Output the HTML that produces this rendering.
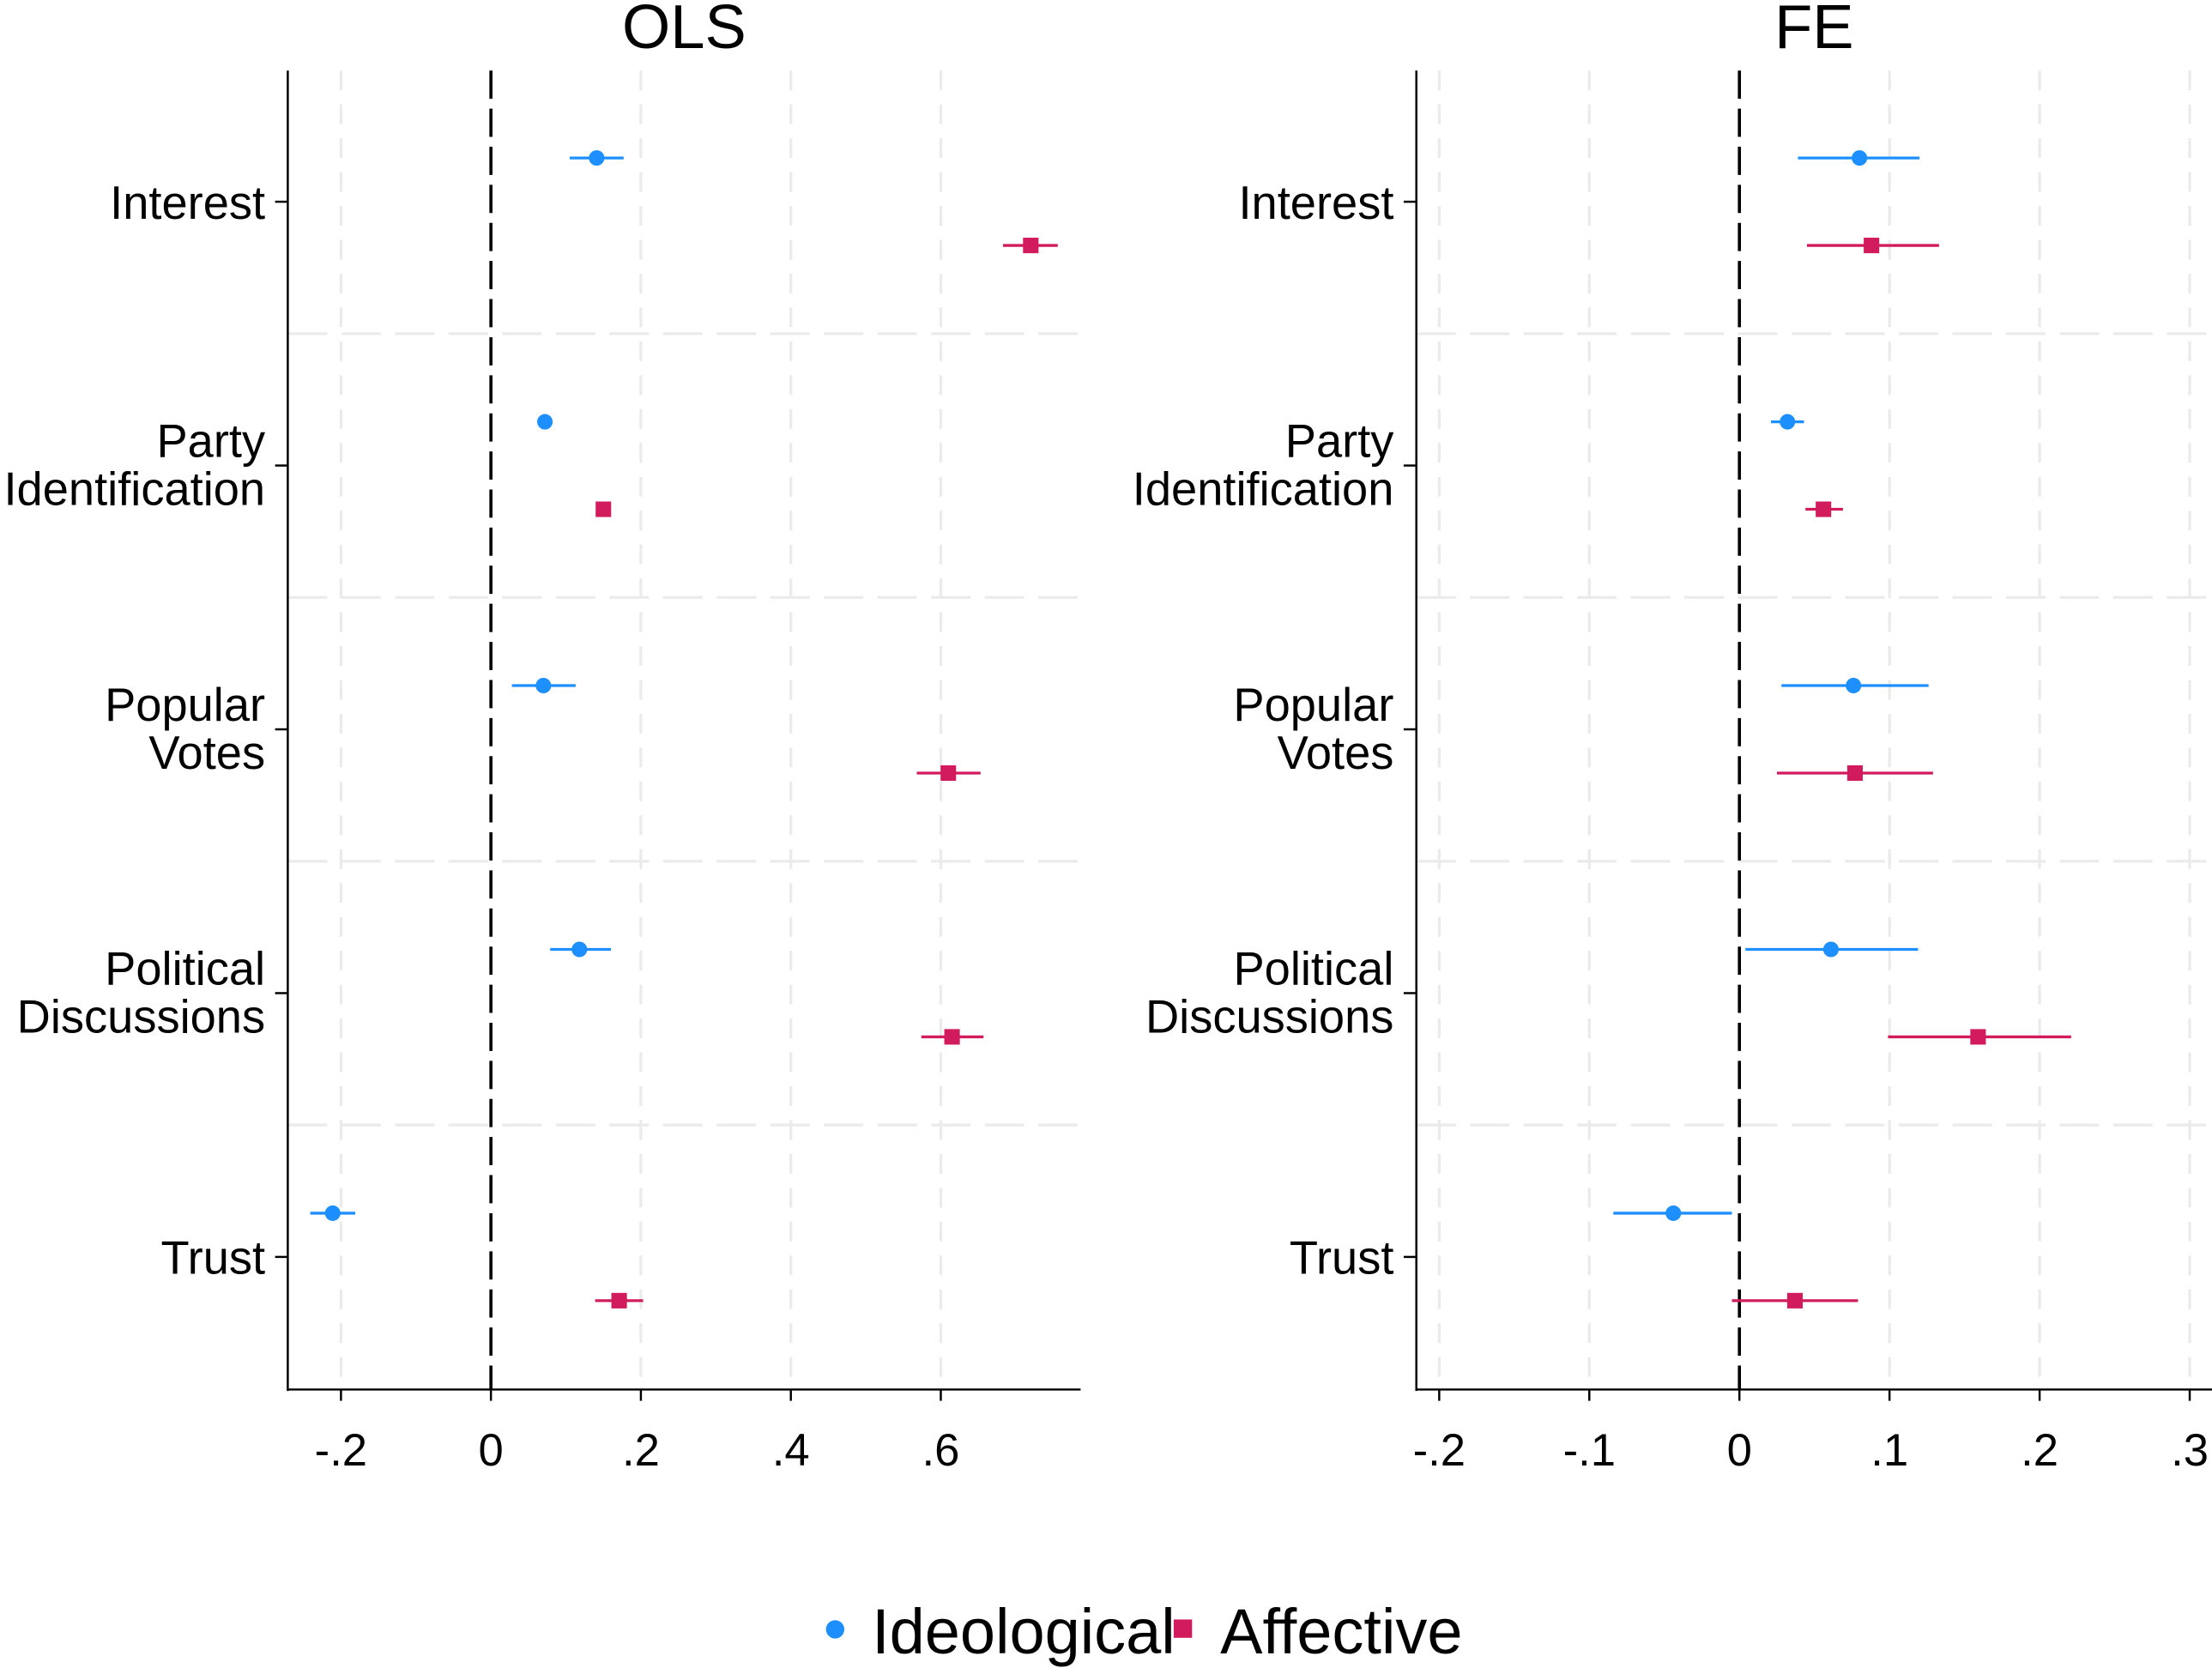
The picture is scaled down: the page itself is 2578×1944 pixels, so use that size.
<!DOCTYPE html>
<html><head><meta charset="utf-8"><style>
html,body{margin:0;padding:0;background:#fff;}
svg{display:block;font-family:"Liberation Sans",Arial,sans-serif;}
</style></head><body>
<svg id="chart" width="2578" height="1944" viewBox="0 0 1568 1182.4" preserveAspectRatio="none" xmlns="http://www.w3.org/2000/svg"></svg>
<script>
const categories = ["Interest", "Party\nIdentification", "Popular\nVotes", "Political\nDiscussions", "Trust"];
const olsIdeo = [0.141, 0.072, 0.070, 0.118, -0.211];
const olsIdeoLo = [0.105, 0.067, 0.028, 0.079, -0.241];
const olsIdeoHi = [0.177, 0.077, 0.113, 0.160, -0.181];
const olsAff = [0.720, 0.150, 0.610, 0.615, 0.171];
const olsAffLo = [0.683, 0.143, 0.568, 0.574, 0.139];
const olsAffHi = [0.756, 0.157, 0.653, 0.657, 0.203];
const feIdeo = [0.080, 0.032, 0.076, 0.061, -0.044];
const feIdeoLo = [0.039, 0.021, 0.028, 0.004, -0.084];
const feIdeoHi = [0.120, 0.043, 0.126, 0.119, -0.005];
const feAff = [0.088, 0.056, 0.077, 0.159, 0.037];
const feAffLo = [0.045, 0.044, 0.025, 0.099, -0.005];
const feAffHi = [0.133, 0.069, 0.129, 0.221, 0.079];
const olsTicks = [-0.2, 0, 0.2, 0.4, 0.6];
const olsTickLabels = ["-.2", "0", ".2", ".4", ".6"];
const feTicks = [-0.2, -0.1, 0, 0.1, 0.2, 0.3];
const feTickLabels = ["-.2", "-.1", "0", ".1", ".2", ".3"];

const NS = "http://www.w3.org/2000/svg";
const svg = document.getElementById("chart");
const BLUE = "#1e8fff", RED = "#d21b5c";
function mk(tag, attrs, parent) {
  const e = document.createElementNS(NS, tag);
  for (const k in attrs) e.setAttribute(k, attrs[k]);
  (parent || svg).appendChild(e);
  return e;
}
const yCat = i => 143 + i * 187;

function panel(cfg) {
  const g = mk("g", {});
  
  
  const x = v => cfg.x0 + v * cfg.k;
  cfg.ticks.forEach(t => {
    if (t === 0) return;
    const l = mk("line", {x1: x(t), x2: x(t), y1: 50, y2: 985, stroke: "#ebebeb", "stroke-width": 2, "stroke-dasharray": "14 10"}, g);
    
    
  });
  for (let i = 0; i < categories.length - 1; i++) {
    const yy = (yCat(i) + yCat(i + 1)) / 2;
    const l = mk("line", {x1: cfg.left, x2: cfg.right, y1: yy, y2: yy, stroke: "#ebebeb", "stroke-width": 2, "stroke-dasharray": "28 10"}, g);
    
    
  }
  const z = mk("line", {x1: x(0), x2: x(0), y1: 50, y2: 985, stroke: "#000", "stroke-width": 2.2, "stroke-dasharray": "20 7"}, g);
  
  
  const ya = mk("line", {x1: cfg.left, x2: cfg.left, y1: 50, y2: 986, stroke: "#000", "stroke-width": 1.5}, g);
  
  
  const xa = mk("line", {x1: cfg.left, x2: cfg.right, y1: 985, y2: 985, stroke: "#000", "stroke-width": 1.5}, g);
  
  
  cfg.ticks.forEach((t, i) => {
    const tk = mk("line", {x1: x(t), x2: x(t), y1: 985, y2: 993, stroke: "#000", "stroke-width": 1.5}, g);
    
    
    const tx = mk("text", {x: x(t), y: 1039, "font-size": 32, "text-anchor": "middle", fill: "#000"}, g);
    tx.textContent = cfg.tickLabels[i];
    
    
  });
  categories.forEach((c, i) => {
    const tk = mk("line", {x1: cfg.left - 9, x2: cfg.left, y1: yCat(i), y2: yCat(i), stroke: "#000", "stroke-width": 1.5}, g);
    
    
    const lines = c.split("\n");
    const t = mk("text", {x: cfg.left - 16, "font-size": 33, "text-anchor": "end", fill: "#000"}, g);
    
    
    lines.forEach((ln, j) => {
      const ts = mk("tspan", {x: cfg.left - 16, y: lines.length === 1 ? yCat(i) + 12 : yCat(i) - 6 + j * 34}, t);
      ts.textContent = ln;
    });
  });
  const ttl = mk("text", {x: cfg.titleX, y: 34, "font-size": 44, "text-anchor": "middle", fill: "#000"}, g);
  ttl.textContent = cfg.title;
  
  
  categories.forEach((c, i) => {
    const yi = yCat(i) - 31, ya2 = yCat(i) + 31;
    const ci1 = mk("line", {x1: x(cfg.ideoLo[i]), x2: x(cfg.ideoHi[i]), y1: yi, y2: yi, stroke: BLUE, "stroke-width": 2}, g);
    
    
    const p1 = mk("circle", {cx: x(cfg.ideo[i]), cy: yi, r: 5.5, fill: BLUE}, g);
    
    
    const ci2 = mk("line", {x1: x(cfg.affLo[i]), x2: x(cfg.affHi[i]), y1: ya2, y2: ya2, stroke: RED, "stroke-width": 2}, g);
    
    
    const p2 = mk("rect", {x: x(cfg.aff[i]) - 5.5, y: ya2 - 5.5, width: 11, height: 11, fill: RED}, g);
    
    
  });
}

panel({name: "ols-panel", title: "OLS", titleX: 485, left: 204, right: 766, x0: 348, k: 531.5,
  ticks: olsTicks, tickLabels: olsTickLabels,
  ideo: olsIdeo, ideoLo: olsIdeoLo, ideoHi: olsIdeoHi, aff: olsAff, affLo: olsAffLo, affHi: olsAffHi});
panel({name: "fe-panel", title: "FE", titleX: 1286, left: 1004, right: 1568, x0: 1233, k: 1064,
  ticks: feTicks, tickLabels: feTickLabels,
  ideo: feIdeo, ideoLo: feIdeoLo, ideoHi: feIdeoHi, aff: feAff, affLo: feAffLo, affHi: feAffHi});

const lg = mk("g", {});


const d1 = mk("circle", {cx: 592, cy: 1155, r: 6.5, fill: BLUE}, lg);


const t1 = mk("text", {x: 618, y: 1172, "font-size": 45, fill: "#000"}, lg);
t1.textContent = "Ideological";


const d2 = mk("rect", {x: 832, y: 1148, width: 13, height: 13, fill: RED}, lg);


const t2 = mk("text", {x: 865, y: 1172, "font-size": 45, fill: "#000"}, lg);
t2.textContent = "Affective";


</script>
</body></html>
